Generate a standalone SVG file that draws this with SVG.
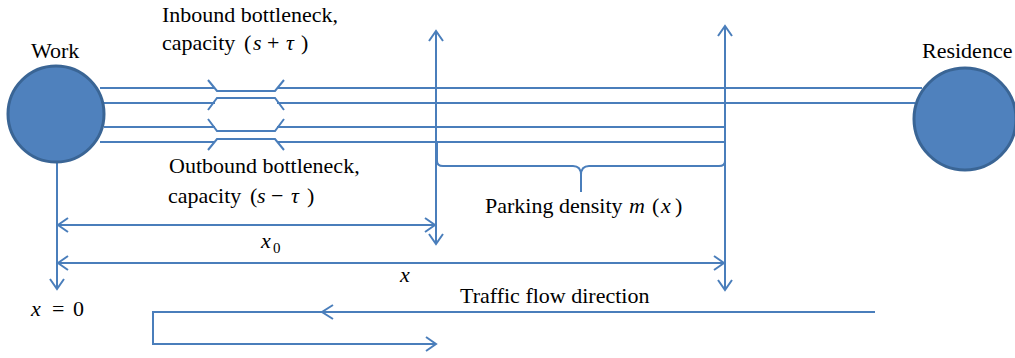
<svg xmlns="http://www.w3.org/2000/svg" width="1015" height="358" viewBox="0 0 1015 358">
<style>
.ln{fill:none;stroke:#4A7EBB;stroke-width:2}
.nd{fill:#4F81BD;stroke:#3A6595;stroke-width:3}
text{font-family:'Liberation Serif','Times New Roman',Times,'DejaVu Serif',serif;font-size:22px;fill:#000}
.m{font-style:italic}
.sub{font-size:15px}
</style>
<defs>
<marker id="ah" markerUnits="userSpaceOnUse" markerWidth="20" markerHeight="20" refX="0" refY="0" viewBox="-12 -10 14 20" orient="auto-start-reverse" overflow="visible">
<path d="M-10,-7 L0,0 L-10,7" fill="none" stroke="#4A7EBB" stroke-width="2"/>
</marker>
</defs>
<rect width="1015" height="358" fill="#fff"/>
<g id="connectors">
<path class="ln" d="M100,88 H215 M277,88 H922"/>
<path class="ln" d="M104,103 H215 M277,103 H915"/>
<path class="ln" d="M104,127 H215 M277,127 H725"/>
<path class="ln" d="M100,142 H215 M277,142 H725"/>
<path class="ln" d="M208,80 L217,91 H275 L284,80"/>
<path class="ln" d="M208,110 L217,98 H275 L284,110"/>
<path class="ln" d="M208,119 L217,131 H275 L284,119"/>
<path class="ln" d="M208,150 L217,139 H275 L284,150"/>
<path class="ln" d="M436,31 V244" marker-start="url(#ah)" marker-end="url(#ah)"/>
<path class="ln" d="M725,26 V290" marker-start="url(#ah)" marker-end="url(#ah)"/>
<path class="ln" d="M57,163 V289" marker-end="url(#ah)"/>
<path class="ln" d="M437,142 V161 Q437,166 443,166 H573 Q581,166 581,175 V192 M725,142 V161 Q725,166 719,166 H589 Q581,166 581,175"/>
<path class="ln" d="M58,225 H435" marker-start="url(#ah)" marker-end="url(#ah)"/>
<path class="ln" d="M58,263 H724" marker-start="url(#ah)" marker-end="url(#ah)"/>
<path class="ln" d="M875,312 H153 V344 H436" marker-end="url(#ah)"/>
<path class="ln" d="M333,305 L322,312 L333,319"/>
</g>
<g id="work">
<circle class="nd" cx="56" cy="114" r="48"/>
<text x="31" y="58">Work</text>
</g>
<g id="residence">
<circle class="nd" cx="965" cy="119" r="51"/>
<text x="922" y="58">Residence</text>
</g>
<g id="labels">
<text x="162" y="22">Inbound bottleneck,</text>
<text x="162" y="50">capacity <tspan x="244">(</tspan><tspan x="253" class="m">s</tspan><tspan x="267">+</tspan><tspan x="286" class="m">τ</tspan><tspan x="301">)</tspan></text>
<text x="169" y="173">Outbound bottleneck,</text>
<text x="168" y="203">capacity <tspan x="250">(</tspan><tspan x="257" class="m">s</tspan><tspan x="271">−</tspan><tspan x="291" class="m">τ</tspan><tspan x="307">)</tspan></text>
<text x="485" y="213">Parking density <tspan x="629" class="m">m</tspan><tspan x="652">(</tspan><tspan x="661" class="m">x</tspan><tspan x="675">)</tspan></text>
<text x="261" y="248" class="m">x</text><text x="273" y="253" class="sub">0</text>
<text x="400" y="282" class="m">x</text>
<text x="31" y="316"><tspan class="m">x</tspan><tspan x="52">=</tspan><tspan x="73">0</tspan></text>
<text x="460" y="303">Traffic flow direction</text>
</g>
</svg>
